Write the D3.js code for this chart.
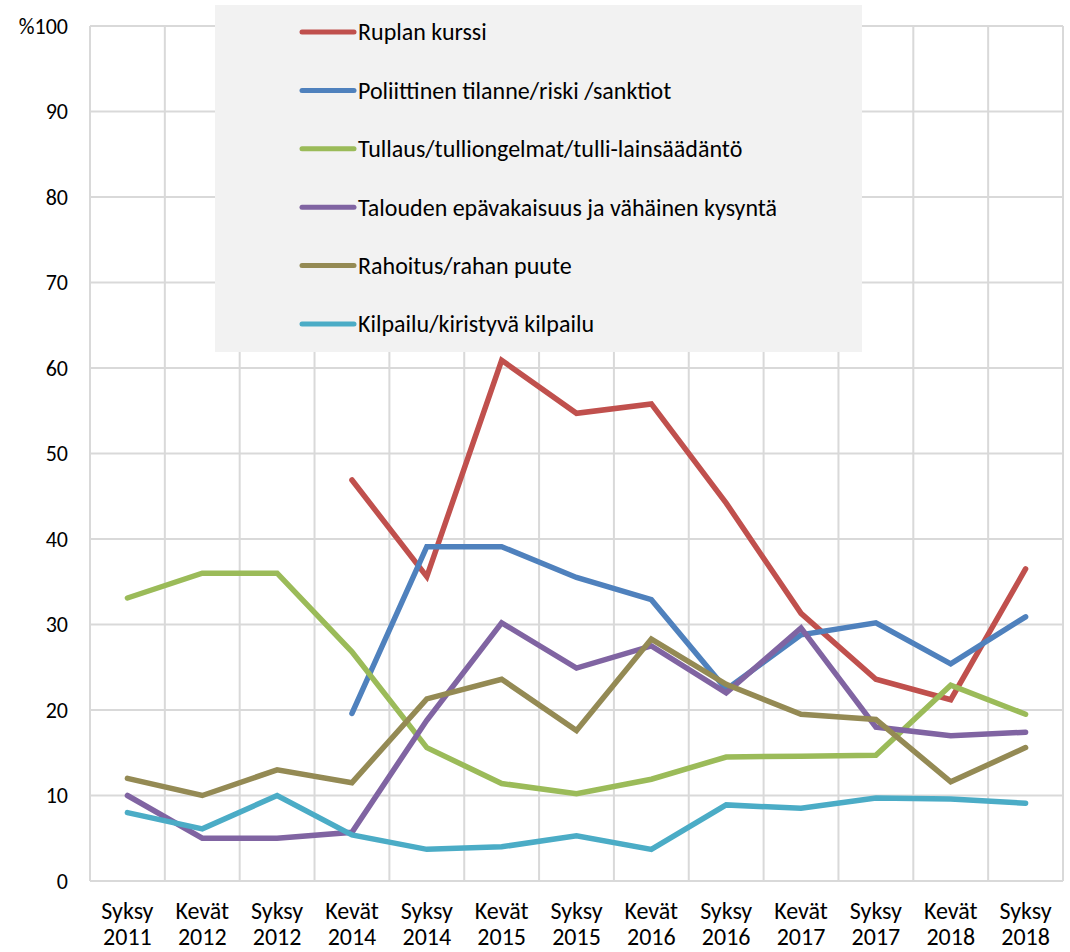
<!DOCTYPE html>
<meta charset="utf-8">
<style>
    body { margin: 0; background: #fff; }
    svg { font-family: Carlito, Lato, "Liberation Sans", sans-serif; }
</style>
<svg width="1070" height="952"></svg>
<script src="https://cdn.jsdelivr.net/npm/d3@7"></script>
<script>

    // kategoriat (kausi + vuosi)
    var seasons = ["Syksy", "Kevät", "Syksy", "Kevät", "Syksy", "Kevät", "Syksy", "Kevät", "Syksy", "Kevät", "Syksy", "Kevät", "Syksy"];
    var years = ["2011", "2012", "2012", "2014", "2014", "2015", "2015", "2016", "2016", "2017", "2017", "2018", "2018"];

    var seriesNames = [
        "Ruplan kurssi",
        "Poliittinen tilanne/riski /sanktiot",
        "Tullaus/tulliongelmat/tulli-lainsäädäntö",
        "Talouden epävakaisuus ja vähäinen kysyntä",
        "Rahoitus/rahan puute",
        "Kilpailu/kiristyvä kilpailu"
    ];
    var seriesColors = ["#c0504d", "#4f81bd", "#9bbb59", "#8064a2", "#948a54", "#4bacc6"];

    var ruplan      = [null, null, null, 46.9, 35.6, 60.9, 54.7, 55.8, 44.2, 31.3, 23.6, 21.2, 36.5];
    var poliittinen = [null, null, null, 19.6, 39.1, 39.1, 35.5, 32.9, 22.4, 28.8, 30.2, 25.4, 30.9];
    var tullaus     = [33.1, 36.0, 36.0, 26.8, 15.6, 11.4, 10.2, 11.9, 14.5, 14.6, 14.7, 22.9, 19.5];
    var talouden    = [10.0, 5.0, 5.0, 5.7, 18.8, 30.2, 24.9, 27.5, 22.0, 29.6, 18.0, 17.0, 17.4];
    var rahoitus    = [12.0, 10.0, 13.0, 11.5, 21.3, 23.6, 17.6, 28.3, 23.0, 19.5, 18.9, 11.6, 15.6];
    var kilpailu    = [8.0, 6.1, 10.0, 5.4, 3.7, 4.0, 5.3, 3.7, 8.9, 8.5, 9.7, 9.6, 9.1];

    var yTicks = [0, 10, 20, 30, 40, 50, 60, 70, 80, 90, 100];

    var allSeries = [ruplan, poliittinen, tullaus, talouden, rahoitus, kilpailu];

    var svg = d3.select("svg");
    var plotLeft = 90, plotRight = 1063, plotTop = 26, plotBottom = 881;

    var x = d3.scaleBand()
        .domain(d3.range(seasons.length))
        .range([plotLeft, plotRight])
        .padding(0);

    var y = d3.scaleLinear()
        .domain([0, 100])
        .range([plotBottom, plotTop]);

    var grid = svg.append("g").attr("stroke", "#d9d9d9").attr("stroke-width", 2);

    grid.selectAll("line.h")
        .data(yTicks)
        .enter().append("line")
        .attr("class", "h")
        .attr("x1", plotLeft).attr("x2", plotRight)
        .attr("y1", function (d) { return y(d); })
        .attr("y2", function (d) { return y(d); });

    var bounds = d3.range(seasons.length + 1);
    grid.selectAll("line.v")
        .data(bounds)
        .enter().append("line")
        .attr("class", "v")
        .attr("x1", function (d) { return d < seasons.length ? x(d) : x(d - 1) + x.bandwidth(); })
        .attr("x2", function (d) { return d < seasons.length ? x(d) : x(d - 1) + x.bandwidth(); })
        .attr("y1", plotTop).attr("y2", plotBottom);

    // y-akselin otsikot
    var yAxis = svg.append("g")
        .attr("transform", "translate(" + (plotLeft - 22) + ",0)")
        .call(d3.axisLeft(y).tickValues(yTicks).tickSize(0).tickPadding(0)
            .tickFormat(function (d) { return d === 100 ? "%100" : d; }));
    yAxis.select(".domain").remove();
    yAxis.selectAll("text")
        .attr("font-size", 22)
        .attr("fill", "#000")
        .style("font-family", "Carlito, Lato, sans-serif");

    // x-akselin otsikot
    var xLabels = svg.append("g").selectAll("text")
        .data(seasons)
        .enter().append("text")
        .attr("x", function (d, i) { return x(i) + x.bandwidth() / 2; })
        .attr("y", 919)
        .attr("text-anchor", "middle")
        .attr("font-size", 24)
        .attr("fill", "#000");
    xLabels.append("tspan").text(function (d) { return d; });
    xLabels.append("tspan")
        .attr("x", function (d, i) { return x(i) + x.bandwidth() / 2; })
        .attr("dy", 26)
        .text(function (d, i) { return years[i]; });

    var line = d3.line()
        .defined(function (d) { return d !== null; })
        .x(function (d, i) { return x(i) + x.bandwidth() / 2; })
        .y(function (d) { return y(d); });

    svg.append("g").selectAll("path")
        .data(allSeries)
        .enter().append("path")
        .attr("d", line)
        .attr("fill", "none")
        .attr("stroke", function (d, i) { return seriesColors[i]; })
        .attr("stroke-width", 5.5)
        .attr("stroke-linejoin", "miter")
        .attr("stroke-linecap", "round");

    // selite
    var legend = svg.append("g");
    legend.append("rect")
        .attr("x", 215).attr("y", 5)
        .attr("width", 647).attr("height", 347)
        .attr("fill", "#f2f2f2");

    var item = legend.selectAll("g.item")
        .data(seriesNames)
        .enter().append("g")
        .attr("class", "item")
        .attr("transform", function (d, i) { return "translate(0," + (32 + i * 58.4) + ")"; });
    item.append("line")
        .attr("x1", 302).attr("x2", 354)
        .attr("stroke", function (d, i) { return seriesColors[i]; })
        .attr("stroke-width", 5)
        .attr("stroke-linecap", "round");
    item.append("text")
        .attr("x", 358)
        .attr("dy", "0.35em")
        .attr("font-size", 24)
        .attr("fill", "#000")
        .text(function (d) { return d; });

</script>
